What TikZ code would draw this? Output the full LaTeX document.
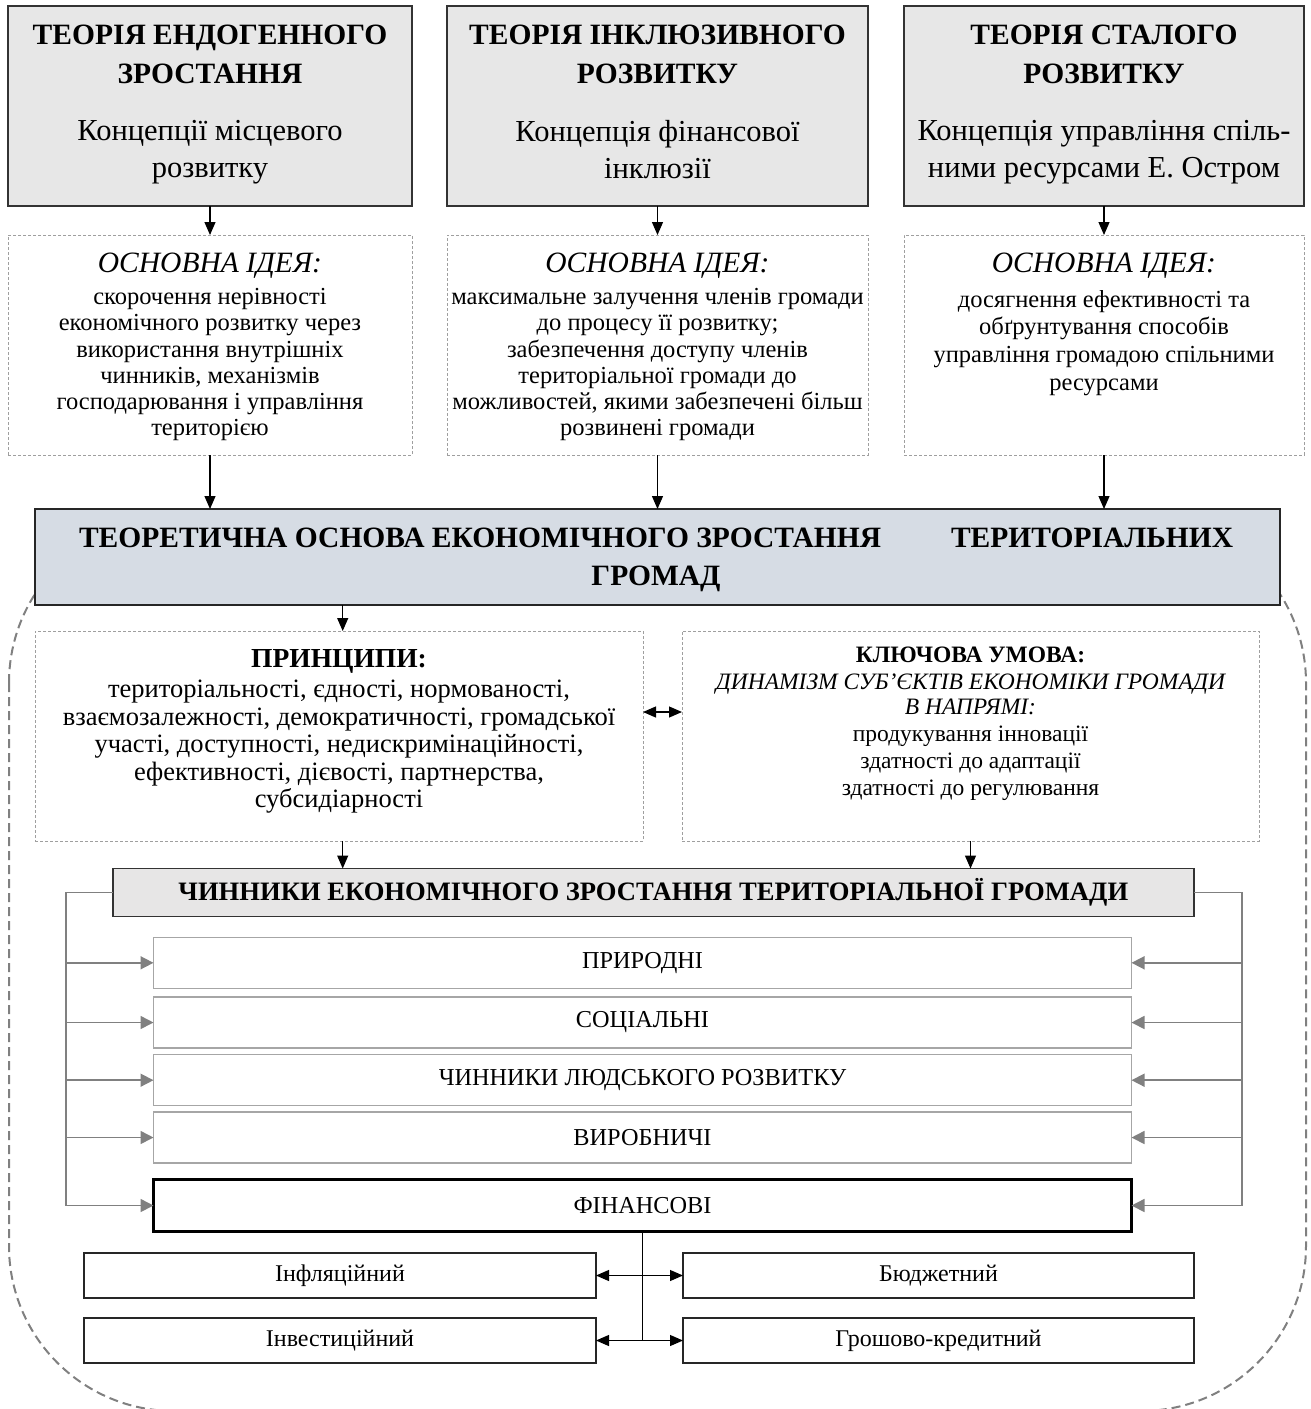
\documentclass[tikz,border=0pt]{standalone}
\usepackage{fontspec}
\setmainfont{Liberation Serif}[BoldFont={Liberation Serif Bold},ItalicFont={Liberation Serif Italic}]
\usetikzlibrary{arrows.meta}
\newcommand\myfs[2]{\fontsize{#1}{#2}\selectfont}
\definecolor{topgray}{HTML}{E7E7E7}
\definecolor{banfill}{HTML}{D6DCE4}
\definecolor{hdrfill}{HTML}{E7E6E6}
\definecolor{lgray}{HTML}{A6A6A6}
\definecolor{mgray}{HTML}{808080}
\begin{document}
\begin{tikzpicture}[x=1pt,y=-1pt,
  box/.style={rectangle, inner sep=0pt, outer sep=0pt},
  topbox/.style={box, draw=black!80, fill=topgray, line width=1.4pt},
  idea/.style={box, draw=gray!75, line width=0.9pt, dash pattern=on 3pt off 2pt},
  ban/.style={box, draw=black!85, fill=banfill, line width=1.8pt},
  hdr/.style={box, draw=black!80, fill=hdrfill, line width=1.4pt},
  frow/.style={box, draw=lgray, line width=1.5pt, fill=white, font=\myfs{24.3}{27}},
  finrow/.style={box, draw=black, line width=2.6pt, fill=white, font=\myfs{24.3}{27}},
  sub/.style={box, draw=black!85, line width=1.3pt, fill=white, font=\myfs{24}{27}},
  txt/.style={inner sep=0pt, align=center},
  arr/.style={line width=1.2pt, -{Triangle[length=13pt,width=11pt]}},
  darr/.style={line width=1.2pt, {Triangle[length=13pt,width=11pt]}-{Triangle[length=13pt,width=11pt]}},
  garr/.style={draw=mgray, line width=1.6pt, -{Triangle[length=13pt,width=13pt]}},
  gline/.style={draw=mgray, line width=1.6pt},
  outline/.style={draw=mgray, line width=2pt, dash pattern=on 9pt off 5pt, rounded corners=165pt}
]
\useasboundingbox (0,0) rectangle (1311,1409);

% big dashed outline
\draw[outline] (9,518) rectangle (1306,1411);

% top boxes
\node[topbox, minimum width=404, minimum height=200] (t1) at (210,106) {};
\node[topbox, minimum width=421, minimum height=200] (t2) at (657.5,106) {};
\node[topbox, minimum width=400, minimum height=200] (t3) at (1104,106) {};

\node[txt, anchor=north, font=\bfseries\myfs{29.5}{39}] (t1a) at (210,25) {ТЕОРІЯ ЕНДОГЕННОГО\\ЗРОСТАННЯ};
\node[txt, anchor=north, font=\bfseries\myfs{29.5}{39}] (t2a) at (657.5,25) {ТЕОРІЯ ІНКЛЮЗИВНОГО\\РОЗВИТКУ};
\node[txt, anchor=north, font=\bfseries\myfs{29.5}{39}] (t3a) at (1104,25) {ТЕОРІЯ СТАЛОГО\\РОЗВИТКУ};

\node[txt, anchor=north, font=\myfs{30.5}{37}] (t1b) at (210,120) {Концепції місцевого\\розвитку};
\node[txt, anchor=north, font=\myfs{30.5}{37}] (t2b) at (657.5,120) {Концепція фінансової\\інклюзії};
\node[txt, anchor=north, font=\myfs{30.5}{37}] (t3b) at (1104,120) {Концепція управління спіль-\\ними ресурсами Е. Остром};

% idea boxes
\node[idea, minimum width=404, minimum height=220] (i1) at (210,345) {};
\node[idea, minimum width=421, minimum height=220] (i2) at (657.5,345) {};
\node[idea, minimum width=400, minimum height=220] (i3) at (1104,345) {};

\node[txt, anchor=north, font=\itshape\myfs{29.5}{32}] (i1h) at (210,253) {ОСНОВНА ІДЕЯ:};
\node[txt, anchor=north, font=\itshape\myfs{29.5}{32}] (i2h) at (657.5,253) {ОСНОВНА ІДЕЯ:};
\node[txt, anchor=north, font=\itshape\myfs{29.5}{32}] (i3h) at (1104,253) {ОСНОВНА ІДЕЯ:};

\node[txt, anchor=north, font=\myfs{24.5}{26.3}] (i1b) at (210,288) {скорочення нерівності\\економічного розвитку через\\використання внутрішніх\\чинників, механізмів\\господарювання і управління\\територією};
\node[txt, anchor=north, font=\myfs{24.5}{26.3}] (i2b) at (657.5,288) {максимальне залучення членів громади\\до процесу її розвитку;\\забезпечення доступу членів\\територіальної громади до\\можливостей, якими забезпечені більш\\розвинені громади};
\node[txt, anchor=north, font=\myfs{24.5}{27.6}] (i3b) at (1104,290) {досягнення ефективності та\\обґрунтування способів\\управління громадою спільними\\ресурсами};

\draw[arr] (t1.south) -- (i1.north);
\draw[arr] (t2.south) -- (i2.north);
\draw[arr] (t3.south) -- (i3.north);

% banner
\node[ban, minimum width=1245, minimum height=96] (ban) at (657.5,557) {};
\node[txt, anchor=north, font=\bfseries\myfs{29.5}{38}] (bant) at (656,528) {\makebox[1154pt]{ТЕОРЕТИЧНА ОСНОВА ЕКОНОМІЧНОГО ЗРОСТАННЯ\hfill ТЕРИТОРІАЛЬНИХ}\\ГРОМАД};

\draw[arr] (i1.south) -- (i1.south |- ban.north);
\draw[arr] (i2.south) -- (i2.south |- ban.north);
\draw[arr] (i3.south) -- (i3.south |- ban.north);

% principles and key condition
\node[idea, minimum width=608, minimum height=210] (pr) at (339,736) {};
\node[idea, minimum width=577, minimum height=210] (key) at (970.5,736) {};

\node[txt, anchor=north, font=\bfseries\myfs{27.5}{30}] (prh) at (339,649) {ПРИНЦИПИ:};
\node[txt, anchor=north, font=\myfs{26.5}{27.5}] (prb) at (339,680) {територіальності, єдності, нормованості,\\взаємозалежності, демократичності, громадської\\участі, доступності, недискримінаційності,\\ефективності, дієвості, партнерства,\\субсидіарності};

\node[txt, anchor=north, font=\bfseries\myfs{23.5}{25}] (keyh) at (970.5,647) {КЛЮЧОВА УМОВА:};
\node[txt, anchor=north, font=\itshape\myfs{23.5}{25}] (keyi) at (970.5,674) {ДИНАМІЗМ СУБ’ЄКТІВ ЕКОНОМІКИ ГРОМАДИ\\В НАПРЯМІ:};
\node[txt, anchor=north, font=\myfs{23.5}{27}] (keyb) at (970.5,726) {продукування інновації\\здатності до адаптації\\здатності до регулювання};

\coordinate (pa) at (342.7,0);
\draw[arr] (ban.south -| pa) -- (pr.north -| pa);
\coordinate (dy) at (0,712);
\draw[darr] (pr.east |- dy) -- (key.west |- dy);

% header
\node[hdr, minimum width=1081, minimum height=48, font=\bfseries\myfs{26.6}{30}] (hdr) at (653.3,892.5) {ЧИННИКИ ЕКОНОМІЧНОГО ЗРОСТАННЯ ТЕРИТОРІАЛЬНОЇ ГРОМАДИ};
\draw[arr] (pr.south -| pa) -- (hdr.north -| pa);
\draw[arr] (key.south) -- (key.south |- hdr.north);

% factor rows
\node[frow, minimum width=978, minimum height=51] (r1) at (642.5,962.8) {ПРИРОДНІ};
\node[frow, minimum width=978, minimum height=51] (r2) at (642.5,1022.5) {СОЦІАЛЬНІ};
\node[frow, minimum width=978, minimum height=51] (r3) at (642.5,1080.2) {ЧИННИКИ ЛЮДСЬКОГО РОЗВИТКУ};
\node[frow, minimum width=978, minimum height=51] (r4) at (642.5,1137.5) {ВИРОБНИЧІ};
\node[finrow, minimum width=978, minimum height=52] (r5) at (642.5,1205.5) {ФІНАНСОВІ};

\coordinate (gl) at (66,0);
\coordinate (gr) at (1242,0);
\draw[gline] (hdr.west) -- (hdr.west -| gl) -- (r5.west -| gl);
\draw[gline] (hdr.east) -- (hdr.east -| gr) -- (r5.east -| gr);
\foreach \r in {r1,r2,r3,r4,r5}{
  \draw[garr] (\r.west -| gl) -- (\r.west);
  \draw[garr] (\r.east -| gr) -- (\r.east);
}

% financial sub-factors
\node[sub, minimum width=512, minimum height=45] (b1) at (340,1275.5) {Інфляційний};
\node[sub, minimum width=511, minimum height=45] (b2) at (938.5,1275.5) {Бюджетний};
\node[sub, minimum width=512, minimum height=45] (b3) at (340,1340.5) {Інвестиційний};
\node[sub, minimum width=511, minimum height=45] (b4) at (938.5,1340.5) {Грошово-кредитний};

\draw[line width=1.2pt] (r5.south) -- (r5.south |- b3.east);
\draw[arr] (r5.south |- b1.east) -- (b1.east);
\draw[arr] (r5.south |- b2.west) -- (b2.west);
\draw[arr] (r5.south |- b3.east) -- (b3.east);
\draw[arr] (r5.south |- b4.west) -- (b4.west);
\end{tikzpicture}
\end{document}
